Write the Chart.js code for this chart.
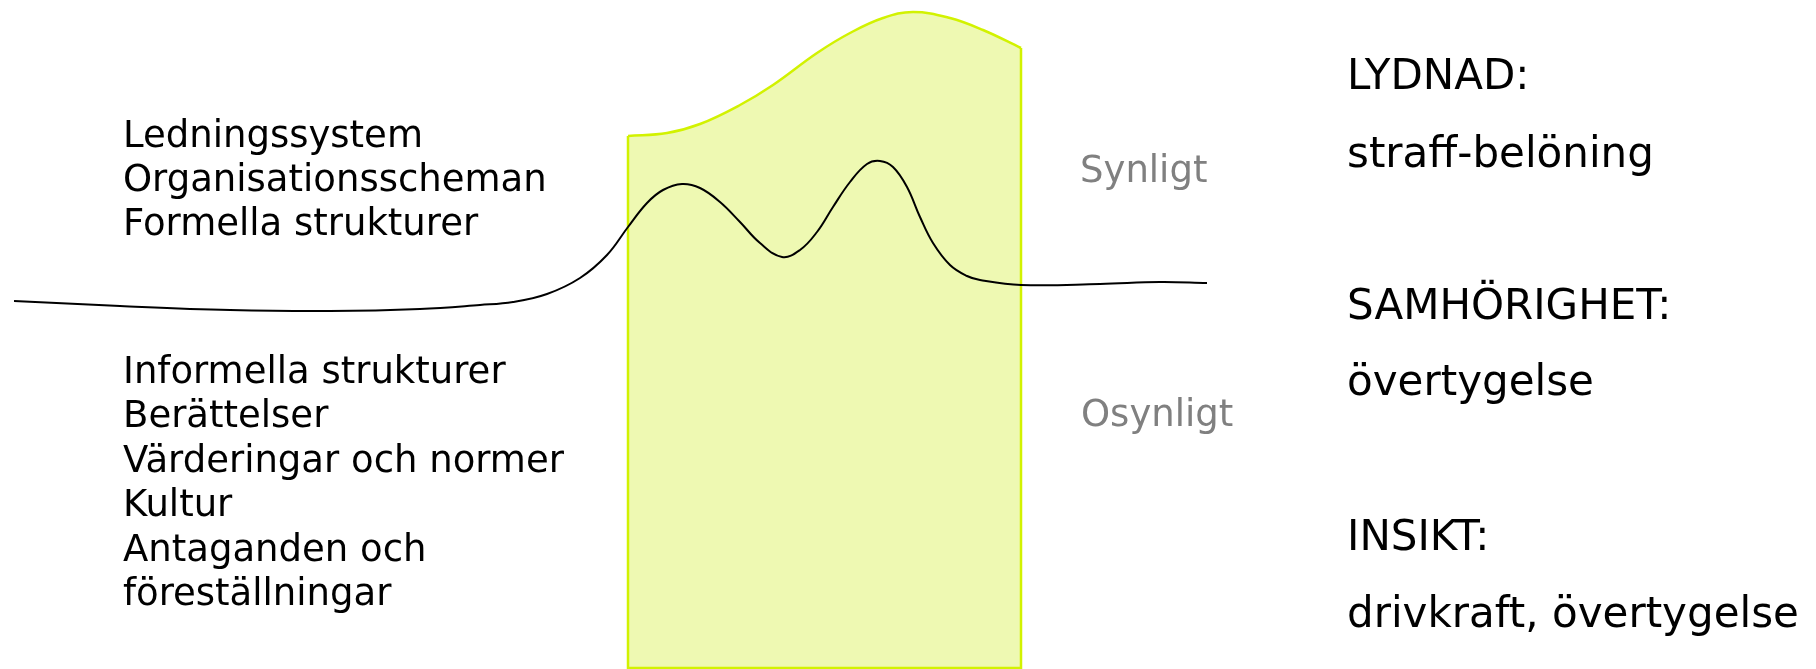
<!DOCTYPE html>
<html>
<head>
<meta charset="utf-8">
<script src="https://cdn.jsdelivr.net/npm/chart.js@4/dist/chart.umd.min.js"></script>
<style>
  html, body { margin: 0; padding: 0; background: #fff; }
  .chart-wrap { width: 1816px; height: 669px; position: relative; }
</style>
</head>
<body>
<div class="chart-wrap"><canvas id="chart"></canvas></div>
<script>
// green "iceberg" top outline
const hillX = [628, 667, 700, 740, 773, 817, 850, 883, 913, 950, 983, 1021];
const hillY = [136, 133, 124, 105, 85, 53, 33, 18, 12, 18, 30, 48];
const hillBase = 668;

// black wave (the "surface")
const waveX = [14, 120, 230, 330, 420, 480, 513, 547, 580, 607, 628, 647, 663, 682, 700, 720, 740, 760, 782, 800, 817, 833, 850, 867, 880, 893, 907, 920, 933, 950, 967, 980, 1021, 1100, 1160, 1207];
const waveY = [301, 306, 310, 311, 309, 305, 302, 294, 278, 255, 227, 203, 190, 184, 188, 202, 222, 243, 257, 250, 232, 207, 182, 164, 161, 167, 187, 217, 243, 265, 276, 280, 285, 284, 282, 283];

// texts
const visibleItems = ["Ledningssystem", "Organisationsscheman", "Formella strukturer"];
const hiddenItems = ["Informella strukturer", "Berättelser", "Värderingar och normer", "Kultur", "Antaganden och", "föreställningar"];
const sideLabels = ["Synligt", "Osynligt"];
const rightLabels = ["LYDNAD:", "straff-belöning", "SAMHÖRIGHET:", "övertygelse", "INSIKT:", "drivkraft, övertygelse"];

const hill = hillX.map((x, i) => ({ x, y: hillY[i] }));
const outline = [
  { x: hillX[0], y: hillY[0] },
  { x: hillX[0], y: hillBase },
  { x: hillX[hillX.length - 1], y: hillBase },
  { x: hillX[hillX.length - 1], y: hillY[hillY.length - 1] }
];
const wave = waveX.map((x, i) => ({ x, y: waveY[i] }));

const FONT = '"DejaVu Sans", Verdana, sans-serif';

const textPlugin = {
  id: 'labels',
  afterDatasetsDraw(chart) {
    const { ctx, scales: { x, y } } = chart;
    ctx.save();
    ctx.textBaseline = 'alphabetic';
    ctx.textAlign = 'left';

    const put = (lines, x0, y0, step, size, color) => {
      ctx.font = size + 'px ' + FONT;
      ctx.fillStyle = color;
      lines.forEach((t, i) => ctx.fillText(t, x.getPixelForValue(x0), y.getPixelForValue(y0 + i * step)));
    };

    put(visibleItems, 123, 147, 44, 37, '#000');
    put(hiddenItems, 123, 383, 44.4, 37, '#000');
    put([sideLabels[0]], 1080, 182, 0, 37, '#808080');
    put([sideLabels[1]], 1081, 426, 0, 37, '#808080');

    const rightY = [89, 167, 319, 395, 550, 627];
    ctx.font = '42px ' + FONT;
    ctx.fillStyle = '#000';
    rightLabels.forEach((t, i) => ctx.fillText(t, x.getPixelForValue(1347), y.getPixelForValue(rightY[i])));
    ctx.restore();
  }
};

new Chart(document.getElementById('chart'), {
  type: 'line',
  data: {
    datasets: [
      {
        label: 'hill',
        data: hill,
        borderColor: '#d2f200',
        backgroundColor: '#eef9b2',
        borderWidth: 2.5,
        fill: { value: hillBase },
        tension: 0.4,
        pointRadius: 0,
        order: 3
      },
      {
        label: 'outline',
        data: outline,
        borderColor: '#d2f200',
        borderWidth: 2.5,
        fill: false,
        tension: 0,
        pointRadius: 0,
        order: 2
      },
      {
        label: 'wave',
        data: wave,
        borderColor: '#000',
        borderWidth: 2,
        fill: false,
        tension: 0.4,
        pointRadius: 0,
        order: 1
      }
    ]
  },
  options: {
    responsive: true,
    maintainAspectRatio: false,
    animation: false,
    layout: { padding: 0 },
    scales: {
      x: { type: 'linear', min: 0, max: 1816, display: false },
      y: { type: 'linear', min: 0, max: 669, reverse: true, display: false }
    },
    plugins: { legend: { display: false }, tooltip: { enabled: false } }
  },
  plugins: [textPlugin]
});
</script>
</body>
</html>
